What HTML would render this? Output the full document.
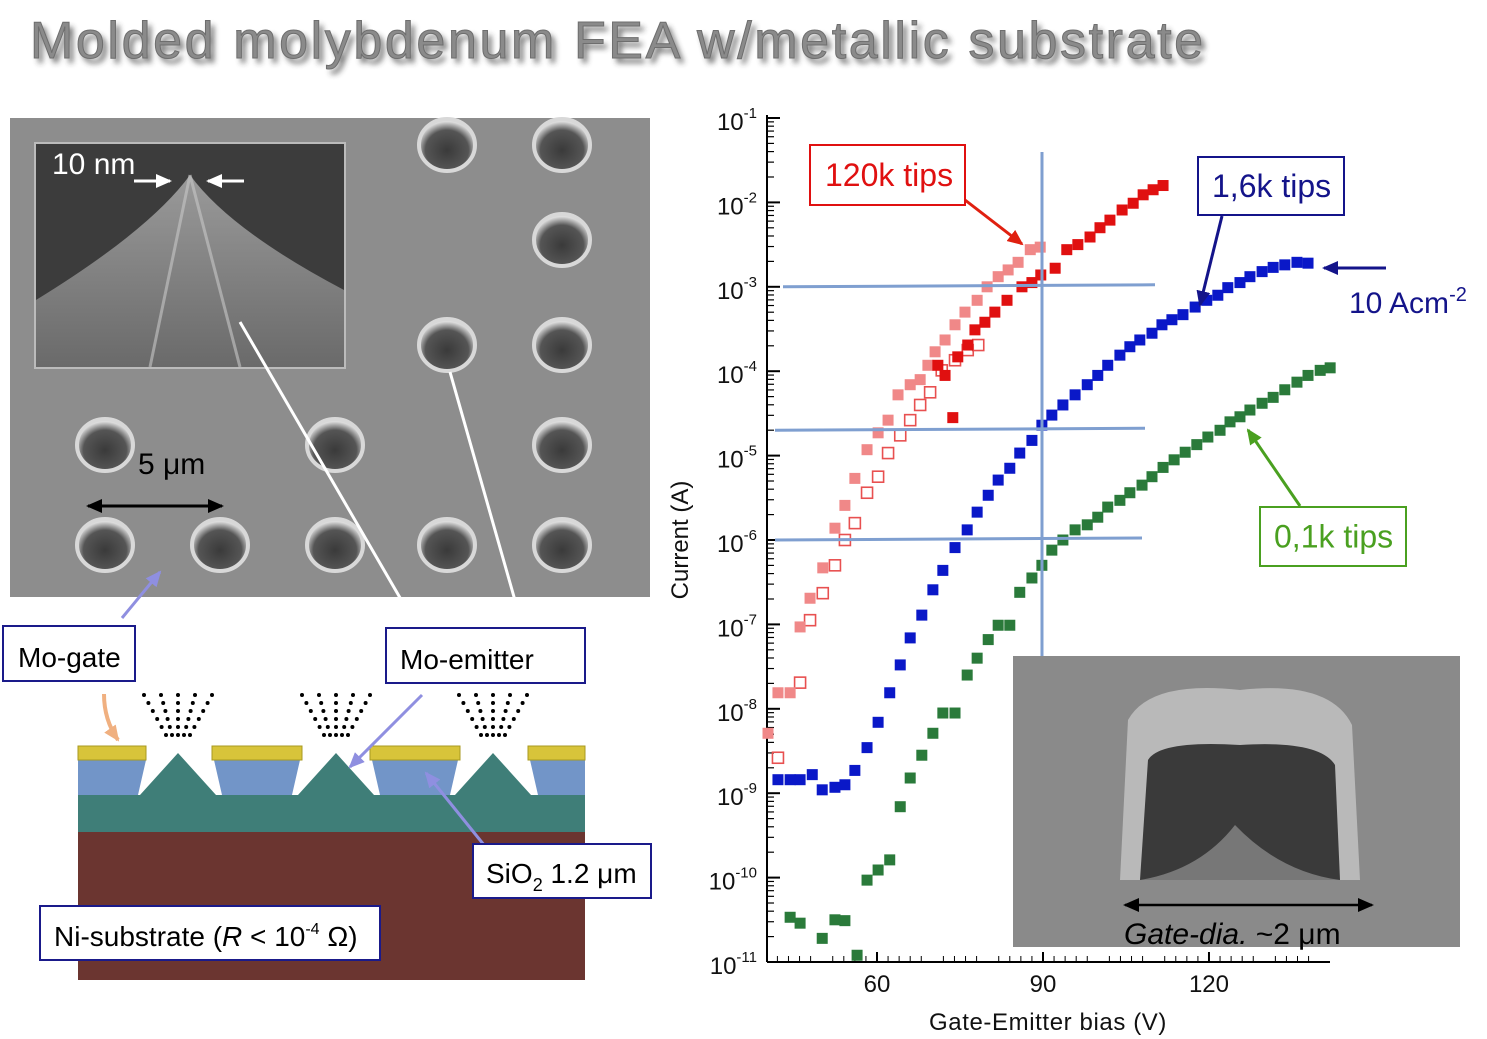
<!DOCTYPE html>
<html><head><meta charset="utf-8"><style>
html,body{margin:0;padding:0;background:#fff;}
svg{display:block;font-family:"Liberation Sans",sans-serif;}
</style></head><body>
<svg id="root" width="1487" height="1039" viewBox="0 0 1487 1039">
<defs>
<filter id="sh" x="-5%" y="-20%" width="110%" height="150%"><feGaussianBlur stdDeviation="3"/></filter>
<radialGradient id="hole" cx="50%" cy="60%" r="55%"><stop offset="0" stop-color="#3a3a3a"/><stop offset="0.7" stop-color="#555"/><stop offset="1" stop-color="#ddd"/></radialGradient>
<linearGradient id="cone" x1="0" y1="0" x2="0" y2="1"><stop offset="0" stop-color="#9a9a9a"/><stop offset="1" stop-color="#6a6a6a"/></linearGradient>
<marker id="ah" markerUnits="userSpaceOnUse" markerWidth="16" markerHeight="14" refX="14" refY="7" orient="auto-start-reverse"><path d="M0,0 L16,7 L0,14 z" fill="context-stroke"/></marker>
</defs>

<!-- Title -->
<g>
<text x="34" y="63" font-size="52" letter-spacing="2.6" fill="#333" filter="url(#sh)" opacity="0.7">Molded molybdenum FEA w/metallic substrate</text>
<text x="30" y="58" font-size="52" letter-spacing="2.6" fill="#8a8a8a" stroke="#6e6e6e" stroke-width="1">Molded molybdenum FEA w/metallic substrate</text>
</g>

<!-- Left SEM image -->
<g>
<rect x="10" y="118" width="640" height="479" fill="#8d8d8d"/>
<g id="holes"></g>
<g>
<rect x="35" y="143" width="310" height="225" fill="#3c3c3c" stroke="#bbb" stroke-width="2"/>
<path d="M36,300 Q150,230 190,175 Q230,230 344,290 L344,367 L36,367 z" fill="url(#cone)"/>
<path d="M190,175 L150,367 M190,175 L240,367" stroke="#c8c8c8" stroke-width="3" opacity="0.6"/>
<text x="52" y="174" font-size="30" fill="#fff">10 nm</text>
<path d="M134,181 L170,181" stroke="#fff" stroke-width="3" marker-end="url(#ah)"/>
<path d="M244,181 L208,181" stroke="#fff" stroke-width="3" marker-end="url(#ah)"/>
</g>
<text x="138" y="474" font-size="30" fill="#000">5 μm</text>
<path d="M88,506 L222,506" stroke="#000" stroke-width="3" marker-end="url(#ah)" marker-start="url(#ah)"/>
<path d="M240,322 L410,615 M450,372 L522,625" stroke="#fff" stroke-width="3"/>
<path d="M122,618 L160,572" stroke="#8f8fe0" stroke-width="3" marker-end="url(#ah)"/>
</g>

<!-- Schematic -->
<g>
<rect x="78" y="832" width="507" height="148" fill="#6b3530"/>
<path d="M78,795 L585,795 L585,832 L78,832 z" fill="#3f7e78"/>
<path d="M140,795 L178,753 L216,795 z M298,795 L336,753 L374,795 z M455,795 L493,753 L531,795 z" fill="#3f7e78"/>
<path d="M78,760 L146,760 L138,795 L78,795 z M214,760 L300,760 L292,795 L222,795 z M372,760 L458,760 L450,795 L380,795 z M530,760 L585,760 L585,795 L538,795 z" fill="#7295c8"/>
<path d="M78,746 L146,746 L146,760 L78,760 z M212,746 L302,746 L302,760 L212,760 z M370,746 L460,746 L460,760 L370,760 z M528,746 L585,746 L585,760 L528,760 z" fill="#d8c43a" stroke="#a89a20"/>
<g fill="#000" id="dots"></g>
<path d="M104,694 Q104,720 118,740" stroke="#f0b080" stroke-width="4" fill="none" marker-end="url(#ah)"/>
<path d="M422,695 L350,767" stroke="#8f8fe0" stroke-width="3" marker-end="url(#ah)"/>
<path d="M484,845 L426,773" stroke="#8f8fe0" stroke-width="3" marker-end="url(#ah)"/>
<rect x="3" y="626" width="132" height="55" fill="#fff" stroke="#1a1a8a" stroke-width="2"/>
<text x="18" y="667" font-size="28" fill="#000">Mo-gate</text>
<rect x="386" y="628" width="199" height="55" fill="#fff" stroke="#1a1a8a" stroke-width="2"/>
<text x="400" y="669" font-size="28" fill="#000">Mo-emitter</text>
<rect x="473" y="844" width="178" height="54" fill="#fff" stroke="#1a1a8a" stroke-width="2"/>
<text x="486" y="883" font-size="28" fill="#000">SiO<tspan font-size="18" dy="8">2</tspan><tspan dy="-8"> 1.2 μm</tspan></text>
<rect x="40" y="906" width="340" height="54" fill="#fff" stroke="#1a1a8a" stroke-width="2"/>
<text x="54" y="946" font-size="28" fill="#000">Ni-substrate (<tspan font-style="italic">R</tspan> &lt; 10<tspan font-size="16" dy="-12">-4</tspan><tspan dy="12"> Ω)</tspan></text>
</g>

<!-- Chart -->
<g id="chart"></g>

<!-- Right SEM inset -->
<g>
<rect x="1013" y="656" width="447" height="291" fill="#8a8a8a"/>
<path d="M1128,720 Q1150,680 1240,690 Q1330,680 1352,725 L1360,880 L1120,880 z" fill="#b9b9b9"/>
<path d="M1148,760 Q1160,740 1240,745 Q1320,740 1335,765 L1340,880 L1140,880 z" fill="#3a3a3a"/>
<path d="M1140,880 Q1200,870 1235,825 Q1280,872 1340,880 z" fill="#777"/>
<path d="M1125,905 L1372,905" stroke="#000" stroke-width="2.5" marker-end="url(#ah)" marker-start="url(#ah)"/>
<text x="1124" y="944" font-size="30" fill="#000"><tspan font-style="italic">Gate-dia.</tspan> ~2 μm</text>
</g>
</svg>
<script>
// ---- chart data ----
const xTicks = [60, 90, 120];
const yExps = [-1,-2,-3,-4,-5,-6,-7,-8,-9,-10,-11];
const redV = [71.0,72.3,73.7,74.6,76.4,77.7,79.5,81.3,83.5,86.2,88.0,89.6,92.2,94.3,96.3,98.5,100.3,102.1,104.3,106.3,108.1,109.9,111.7];
const redL = [-3.93,-4.05,-4.55,-3.83,-3.69,-3.51,-3.42,-3.30,-3.16,-3.00,-2.95,-2.86,-2.78,-2.56,-2.50,-2.41,-2.30,-2.21,-2.09,-2.01,-1.91,-1.85,-1.80];
const pinkV = [40.3,42.1,44.3,46.1,47.9,50.2,52.4,54.2,56.0,58.2,60.2,62.0,63.8,66.0,67.8,69.2,70.5,72.3,74.1,75.9,78.1,79.9,81.9,83.7,85.5,87.7,89.5];
const pinkL = [-8.29,-7.81,-7.81,-7.03,-6.69,-6.33,-5.86,-5.59,-5.27,-4.93,-4.73,-4.58,-4.28,-4.16,-4.10,-3.93,-3.77,-3.63,-3.45,-3.30,-3.16,-3.00,-2.88,-2.80,-2.71,-2.56,-2.53];
const openV = [42.1,46.1,47.9,50.2,52.4,54.2,56.0,58.2,60.2,62.0,64.2,66.0,67.8,69.6,71.7,74.1,76.4,78.3];
const openL = [-8.58,-7.69,-6.95,-6.63,-6.30,-6.00,-5.80,-5.44,-5.25,-4.97,-4.76,-4.58,-4.40,-4.25,-3.99,-3.87,-3.75,-3.69];
const blueV = [42.1,44.3,46.1,48.3,50.1,52.4,54.2,56.0,58.2,60.2,62.3,64.2,66.0,68.1,70.1,71.9,74.1,76.3,78.1,80.1,81.9,84.0,85.8,88.0,89.8,91.6,93.6,95.8,98.0,99.9,101.7,103.9,105.7,107.5,109.7,111.5,113.3,115.3,117.5,119.6,121.6,123.4,125.6,127.4,129.6,131.6,133.7,135.9,137.9];
const blueL = [-8.84,-8.84,-8.84,-8.78,-8.96,-8.93,-8.90,-8.73,-8.46,-8.16,-7.81,-7.48,-7.16,-6.89,-6.59,-6.36,-6.09,-5.88,-5.67,-5.47,-5.29,-5.15,-4.97,-4.82,-4.64,-4.52,-4.40,-4.28,-4.16,-4.05,-3.93,-3.81,-3.71,-3.63,-3.55,-3.45,-3.39,-3.33,-3.24,-3.16,-3.10,-3.01,-2.95,-2.88,-2.82,-2.77,-2.74,-2.71,-2.72];
const greenV = [44.3,46.1,50.1,52.4,54.2,56.4,58.2,60.2,62.3,64.2,66.0,68.1,70.1,71.9,74.1,76.3,78.1,80.1,81.9,84.0,85.8,88.0,89.8,91.6,93.6,95.8,98.0,99.9,101.7,103.9,105.7,107.9,109.7,111.7,113.7,115.7,117.8,119.8,122.0,123.8,125.6,127.4,129.6,131.6,133.7,135.9,137.9,140.1,141.9];
const greenL = [-10.47,-10.54,-10.72,-10.50,-10.51,-10.92,-10.03,-9.91,-9.79,-9.16,-8.82,-8.55,-8.29,-8.05,-8.05,-7.60,-7.40,-7.18,-7.01,-7.01,-6.62,-6.45,-6.30,-6.12,-6.00,-5.88,-5.82,-5.73,-5.61,-5.53,-5.44,-5.35,-5.25,-5.14,-5.05,-4.96,-4.87,-4.78,-4.70,-4.60,-4.54,-4.46,-4.38,-4.31,-4.22,-4.13,-4.05,-3.99,-3.96];
const refLevels = [-3, -4.7, -6];
const refV = 90;

const NS = "http://www.w3.org/2000/svg";
function fx(v){ return 877 + (v - 60) * 5.533; }
function fy(l){ return 118 + (-1 - l) * 84.4; }
function mk(tag, attrs, parent){ const e = document.createElementNS(NS, tag); for (const k in attrs) e.setAttribute(k, attrs[k]); parent.appendChild(e); return e; }
const chart = document.getElementById('chart');

// axes
const yAxis = mk('line', {x1:767,y1:115,x2:767,y2:962,stroke:'#000','stroke-width':2}, chart);


const xAxis = mk('line', {x1:767,y1:962,x2:1330,y2:962,stroke:'#000','stroke-width':2}, chart);


yExps.forEach(function(e){
  const y = fy(e);
  mk('line', {x1:767,y1:y,x2:780,y2:y,stroke:'#000','stroke-width':2}, chart);
  if (e > -11) { for (let m = 2; m < 10; m++) { const yy = fy(e - 1 + Math.log10(m)); mk('line', {x1:767,y1:yy,x2:774,y2:yy,stroke:'#000','stroke-width':1.2}, chart); } }
  const t = mk('text', {x:757,y:y+12,'font-size':24,'text-anchor':'end',fill:'#111'}, chart);
  
  
  t.textContent = '10';
  const s = mk('tspan', {dy:-12,'font-size':15}, t); s.textContent = String(e);
});
xTicks.forEach(function(v){
  const x = fx(v);
  mk('line', {x1:x,y1:962,x2:x,y2:952,stroke:'#000','stroke-width':2}, chart);
  const t = mk('text', {x:x,y:992,'font-size':24,'text-anchor':'middle',fill:'#111'}, chart);
  
  
  t.textContent = v;
});
for (let v = 42; v <= 140; v += 2) { if (v % 10) { const x = fx(v); mk('line', {x1:x,y1:962,x2:x,y2:956,stroke:'#000','stroke-width':1}, chart); } }
const xt = mk('text', {x:1048,y:1030,'font-size':24,'text-anchor':'middle',fill:'#111','letter-spacing':0.6}, chart);


xt.textContent = 'Gate-Emitter bias (V)';
const yt = mk('text', {x:0,y:0,'font-size':24,'text-anchor':'middle',fill:'#111',transform:'translate(688,540) rotate(-90)'}, chart);


yt.textContent = 'Current (A)';

function series(V, L, color, open, name){
  const g = mk('g', {}, chart);
  
  
  V.forEach(function(v, i){
    const r = mk('rect', {x:fx(v)-5.5,y:fy(L[i])-5.5,width:11,height:11,fill:open?'none':color,stroke:color,'stroke-width':open?1.6:0}, g);
    
    
  });
}
series(greenV, greenL, '#2a7a3a', false, 'series-0-1k-tips');
series(blueV, blueL, '#0a18c8', false, 'series-1-6k-tips');
series(openV, openL, '#e85050', true, 'series-120k-open');
series(pinkV, pinkL, '#f08888', false, 'series-120k-pink');
series(redV, redL, '#e01010', false, 'series-120k-tips');

// reference lines
const refEnds = [[783,1155],[775,1145],[775,1142]];
refLevels.forEach(function(l, i){
  const ln = mk('line', {x1:refEnds[i][0],y1:fy(l),x2:refEnds[i][1],y2:fy(l)-2,stroke:'#7f9fd0','stroke-width':3}, chart);
  
  
});
const vl = mk('line', {x1:fx(refV)-1,y1:152,x2:fx(refV)-1,y2:656,stroke:'#7f9fd0','stroke-width':3}, chart);



// annotations
function box(x,y,w,h,col,txt,name,tx){
  const g = mk('g', {}, chart);
  
  
  mk('rect', {x:x,y:y,width:w,height:h,fill:'#fff',stroke:col,'stroke-width':2}, g);
  const t = mk('text', {x:tx,y:y+h/2+11,'font-size':32,fill:col}, g); t.textContent = txt;
}
mk('path', {d:'M965,200 L1022,244',stroke:'#e02010','stroke-width':3,fill:'none','marker-end':'url(#ah)'}, chart);
box(810,145,155,60,'#e01010','120k tips','label-120k-tips',825);
mk('path', {d:'M1222,216 L1200,305',stroke:'#14148a','stroke-width':3,fill:'none','marker-end':'url(#ah)'}, chart);
box(1198,157,146,58,'#14148a','1,6k tips','label-1-6k-tips',1212);
mk('path', {d:'M1300,506 L1248,430',stroke:'#4aa020','stroke-width':3,fill:'none','marker-end':'url(#ah)'}, chart);
box(1260,507,146,59,'#4aa020','0,1k tips','label-0-1k-tips',1274);
mk('path', {d:'M1386,268 L1324,268',stroke:'#14148a','stroke-width':3,fill:'none','marker-end':'url(#ah)'}, chart);
const ac = mk('text', {x:1349,y:313,'font-size':30,fill:'#14148a'}, chart);


ac.textContent = '10 Acm';
const acs = mk('tspan', {dy:-12,'font-size':20}, ac); acs.textContent = '-2';

// SEM holes
const holes = document.getElementById('holes');
const holeCols = [105,220,335,447,562];
const holeRows = [145,240,345,445,545];
holeRows.forEach(function(yy, ri){ holeCols.forEach(function(xx, ci){
  if (xx < 360 && yy < 380) return;
  if (ri===1 && ci===3) return;
  if (ri===3 && (ci===1||ci===3)) return;
  const h = mk('ellipse', {cx:xx,cy:yy,rx:28,ry:26,fill:'url(#hole)',stroke:'#d8d8d8','stroke-width':4}, holes);
  
  
});});
// electron dots
const dots = document.getElementById('dots');
[178,336,493].forEach(function(c){
  for (let k = -2; k <= 2; k++) for (let j = 0; j < 6; j++) {
    mk('circle', {cx:c + k*(6 + j*2.2), cy:735 - j*8, r:2}, dots);
  }
});
</script>
</body></html>
